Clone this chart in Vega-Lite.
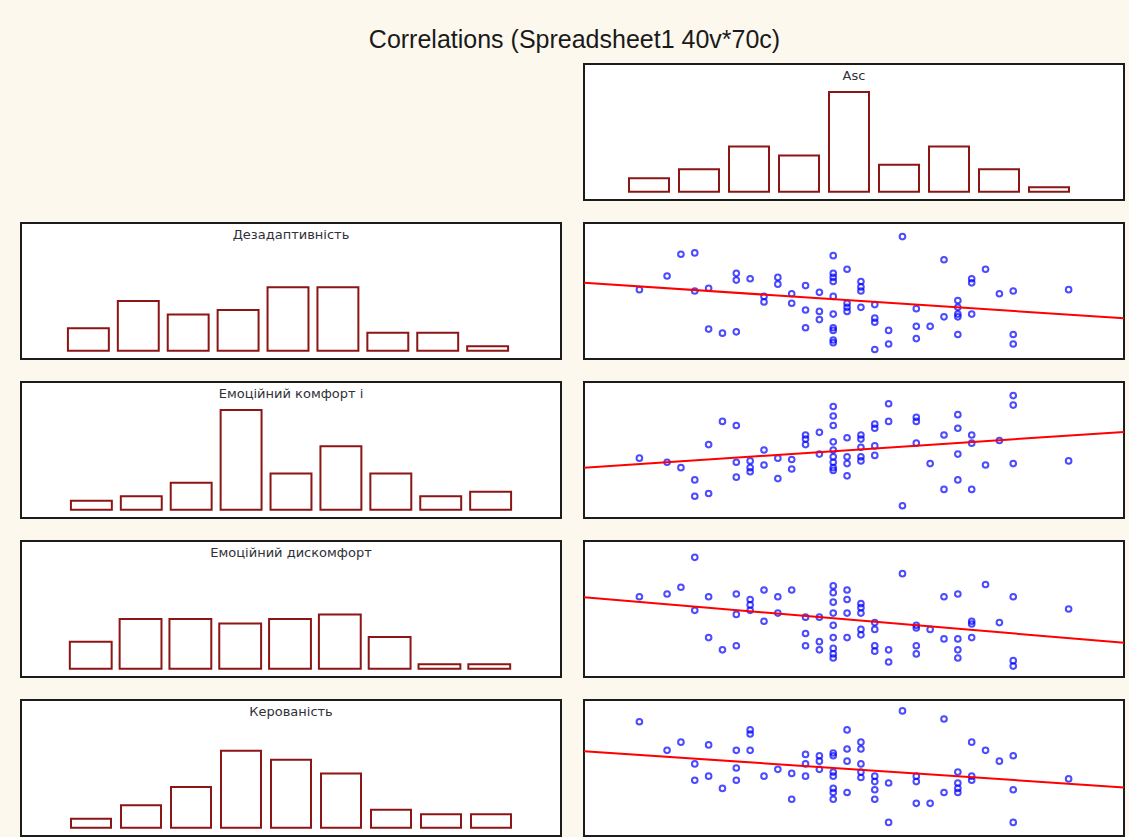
{
  "$schema": "https://vega.github.io/schema/vega-lite/v6.json",
  "background": "#fdf8ee",
  "padding": {"left": 20, "top": 28, "right": 0, "bottom": 0},
  "title": {
    "text": "Correlations (Spreadsheet1 40v*70c)",
    "anchor": "middle",
    "font": "Liberation Sans",
    "fontSize": 25,
    "fontWeight": "normal",
    "color": "#1a1a1a",
    "offset": 10
  },
  "config": {
    "view": {"stroke": "#1c1c1c", "strokeWidth": 2, "fill": "white"},
    "title": {"font": "DejaVu Sans", "fontSize": 13, "fontWeight": "normal", "color": "#303038", "anchor": "middle", "offset": -19},
    "bar": {"fill": "white", "stroke": "#8c1515", "strokeWidth": 2},
    "point": {"shape": "circle", "filled": false, "color": "#0000ff", "size": 32, "strokeWidth": 2},
    "line": {"color": "#ff0000", "strokeWidth": 2}
  },
  "datasets": {
    "hist": [
      {"var": "Asc", "bin": 1, "count": 3}, {"var": "Asc", "bin": 2, "count": 5}, {"var": "Asc", "bin": 3, "count": 10},
      {"var": "Asc", "bin": 4, "count": 8}, {"var": "Asc", "bin": 5, "count": 22}, {"var": "Asc", "bin": 6, "count": 6},
      {"var": "Asc", "bin": 7, "count": 10}, {"var": "Asc", "bin": 8, "count": 5}, {"var": "Asc", "bin": 9, "count": 1},
      {"var": "Дезадаптивність", "bin": 1, "count": 5}, {"var": "Дезадаптивність", "bin": 2, "count": 11}, {"var": "Дезадаптивність", "bin": 3, "count": 8},
      {"var": "Дезадаптивність", "bin": 4, "count": 9}, {"var": "Дезадаптивність", "bin": 5, "count": 14}, {"var": "Дезадаптивність", "bin": 6, "count": 14},
      {"var": "Дезадаптивність", "bin": 7, "count": 4}, {"var": "Дезадаптивність", "bin": 8, "count": 4}, {"var": "Дезадаптивність", "bin": 9, "count": 1},
      {"var": "Емоційний комфорт і", "bin": 1, "count": 2}, {"var": "Емоційний комфорт і", "bin": 2, "count": 3}, {"var": "Емоційний комфорт і", "bin": 3, "count": 6},
      {"var": "Емоційний комфорт і", "bin": 4, "count": 22}, {"var": "Емоційний комфорт і", "bin": 5, "count": 8}, {"var": "Емоційний комфорт і", "bin": 6, "count": 14},
      {"var": "Емоційний комфорт і", "bin": 7, "count": 8}, {"var": "Емоційний комфорт і", "bin": 8, "count": 3}, {"var": "Емоційний комфорт і", "bin": 9, "count": 4},
      {"var": "Емоційний дискомфорт", "bin": 1, "count": 6}, {"var": "Емоційний дискомфорт", "bin": 2, "count": 11}, {"var": "Емоційний дискомфорт", "bin": 3, "count": 11},
      {"var": "Емоційний дискомфорт", "bin": 4, "count": 10}, {"var": "Емоційний дискомфорт", "bin": 5, "count": 11}, {"var": "Емоційний дискомфорт", "bin": 6, "count": 12},
      {"var": "Емоційний дискомфорт", "bin": 7, "count": 7}, {"var": "Емоційний дискомфорт", "bin": 8, "count": 1}, {"var": "Емоційний дискомфорт", "bin": 9, "count": 1},
      {"var": "Керованість", "bin": 1, "count": 2}, {"var": "Керованість", "bin": 2, "count": 5}, {"var": "Керованість", "bin": 3, "count": 9},
      {"var": "Керованість", "bin": 4, "count": 17}, {"var": "Керованість", "bin": 5, "count": 15}, {"var": "Керованість", "bin": 6, "count": 12},
      {"var": "Керованість", "bin": 7, "count": 4}, {"var": "Керованість", "bin": 8, "count": 3}, {"var": "Керованість", "bin": 9, "count": 3}
    ],
    "points": [
      {"var": "D", "Asc": 20, "value": 51}, {"var": "D", "Asc": 22, "value": 61}, {"var": "D", "Asc": 23, "value": 77}, {"var": "D", "Asc": 24, "value": 78},
      {"var": "D", "Asc": 24, "value": 50}, {"var": "D", "Asc": 25, "value": 52}, {"var": "D", "Asc": 25, "value": 22}, {"var": "D", "Asc": 26, "value": 19},
      {"var": "D", "Asc": 27, "value": 63}, {"var": "D", "Asc": 27, "value": 58}, {"var": "D", "Asc": 27, "value": 20}, {"var": "D", "Asc": 28, "value": 59},
      {"var": "D", "Asc": 29, "value": 46}, {"var": "D", "Asc": 29, "value": 42}, {"var": "D", "Asc": 30, "value": 60}, {"var": "D", "Asc": 30, "value": 55},
      {"var": "D", "Asc": 31, "value": 48}, {"var": "D", "Asc": 31, "value": 41}, {"var": "D", "Asc": 32, "value": 54}, {"var": "D", "Asc": 32, "value": 36},
      {"var": "D", "Asc": 32, "value": 23}, {"var": "D", "Asc": 33, "value": 49}, {"var": "D", "Asc": 33, "value": 35}, {"var": "D", "Asc": 33, "value": 29},
      {"var": "D", "Asc": 34, "value": 76}, {"var": "D", "Asc": 34, "value": 63}, {"var": "D", "Asc": 34, "value": 60}, {"var": "D", "Asc": 34, "value": 57},
      {"var": "D", "Asc": 34, "value": 46}, {"var": "D", "Asc": 34, "value": 33}, {"var": "D", "Asc": 34, "value": 23}, {"var": "D", "Asc": 34, "value": 21},
      {"var": "D", "Asc": 34, "value": 14}, {"var": "D", "Asc": 34, "value": 12}, {"var": "D", "Asc": 35, "value": 66}, {"var": "D", "Asc": 35, "value": 41},
      {"var": "D", "Asc": 35, "value": 38}, {"var": "D", "Asc": 35, "value": 35}, {"var": "D", "Asc": 36, "value": 57}, {"var": "D", "Asc": 36, "value": 53},
      {"var": "D", "Asc": 36, "value": 50}, {"var": "D", "Asc": 36, "value": 38}, {"var": "D", "Asc": 37, "value": 40}, {"var": "D", "Asc": 37, "value": 30},
      {"var": "D", "Asc": 37, "value": 27}, {"var": "D", "Asc": 37, "value": 7}, {"var": "D", "Asc": 38, "value": 21}, {"var": "D", "Asc": 38, "value": 11},
      {"var": "D", "Asc": 39, "value": 90}, {"var": "D", "Asc": 40, "value": 37}, {"var": "D", "Asc": 40, "value": 24}, {"var": "D", "Asc": 40, "value": 15},
      {"var": "D", "Asc": 41, "value": 24}, {"var": "D", "Asc": 42, "value": 73}, {"var": "D", "Asc": 42, "value": 31}, {"var": "D", "Asc": 43, "value": 43},
      {"var": "D", "Asc": 43, "value": 38}, {"var": "D", "Asc": 43, "value": 33}, {"var": "D", "Asc": 43, "value": 31}, {"var": "D", "Asc": 43, "value": 18},
      {"var": "D", "Asc": 44, "value": 59}, {"var": "D", "Asc": 44, "value": 56}, {"var": "D", "Asc": 44, "value": 33}, {"var": "D", "Asc": 45, "value": 66},
      {"var": "D", "Asc": 46, "value": 48}, {"var": "D", "Asc": 47, "value": 50}, {"var": "D", "Asc": 47, "value": 18}, {"var": "D", "Asc": 47, "value": 11},
      {"var": "D", "Asc": 51, "value": 51},

      {"var": "C", "Asc": 20, "value": 44}, {"var": "C", "Asc": 22, "value": 41}, {"var": "C", "Asc": 23, "value": 37}, {"var": "C", "Asc": 24, "value": 28},
      {"var": "C", "Asc": 24, "value": 16}, {"var": "C", "Asc": 25, "value": 54}, {"var": "C", "Asc": 25, "value": 18}, {"var": "C", "Asc": 26, "value": 71},
      {"var": "C", "Asc": 27, "value": 68}, {"var": "C", "Asc": 27, "value": 41}, {"var": "C", "Asc": 27, "value": 30}, {"var": "C", "Asc": 28, "value": 42},
      {"var": "C", "Asc": 28, "value": 37}, {"var": "C", "Asc": 28, "value": 34}, {"var": "C", "Asc": 29, "value": 50}, {"var": "C", "Asc": 29, "value": 39},
      {"var": "C", "Asc": 30, "value": 44}, {"var": "C", "Asc": 30, "value": 29}, {"var": "C", "Asc": 31, "value": 43}, {"var": "C", "Asc": 31, "value": 36},
      {"var": "C", "Asc": 32, "value": 61}, {"var": "C", "Asc": 32, "value": 58}, {"var": "C", "Asc": 32, "value": 54}, {"var": "C", "Asc": 33, "value": 63},
      {"var": "C", "Asc": 33, "value": 47}, {"var": "C", "Asc": 34, "value": 82}, {"var": "C", "Asc": 34, "value": 75}, {"var": "C", "Asc": 34, "value": 68},
      {"var": "C", "Asc": 34, "value": 56}, {"var": "C", "Asc": 34, "value": 50}, {"var": "C", "Asc": 34, "value": 45}, {"var": "C", "Asc": 34, "value": 41},
      {"var": "C", "Asc": 34, "value": 37}, {"var": "C", "Asc": 34, "value": 35}, {"var": "C", "Asc": 35, "value": 59}, {"var": "C", "Asc": 35, "value": 45},
      {"var": "C", "Asc": 35, "value": 40}, {"var": "C", "Asc": 35, "value": 31}, {"var": "C", "Asc": 36, "value": 61}, {"var": "C", "Asc": 36, "value": 58},
      {"var": "C", "Asc": 36, "value": 52}, {"var": "C", "Asc": 36, "value": 45}, {"var": "C", "Asc": 36, "value": 42}, {"var": "C", "Asc": 37, "value": 69},
      {"var": "C", "Asc": 37, "value": 66}, {"var": "C", "Asc": 37, "value": 53}, {"var": "C", "Asc": 37, "value": 46}, {"var": "C", "Asc": 38, "value": 84},
      {"var": "C", "Asc": 38, "value": 71}, {"var": "C", "Asc": 39, "value": 9}, {"var": "C", "Asc": 40, "value": 74}, {"var": "C", "Asc": 40, "value": 71},
      {"var": "C", "Asc": 40, "value": 55}, {"var": "C", "Asc": 41, "value": 40}, {"var": "C", "Asc": 42, "value": 61}, {"var": "C", "Asc": 42, "value": 21},
      {"var": "C", "Asc": 43, "value": 76}, {"var": "C", "Asc": 43, "value": 66}, {"var": "C", "Asc": 43, "value": 47}, {"var": "C", "Asc": 43, "value": 28},
      {"var": "C", "Asc": 44, "value": 61}, {"var": "C", "Asc": 44, "value": 55}, {"var": "C", "Asc": 44, "value": 21}, {"var": "C", "Asc": 45, "value": 39},
      {"var": "C", "Asc": 46, "value": 57}, {"var": "C", "Asc": 47, "value": 90}, {"var": "C", "Asc": 47, "value": 83}, {"var": "C", "Asc": 47, "value": 40},
      {"var": "C", "Asc": 51, "value": 42},

      {"var": "U", "Asc": 20, "value": 59}, {"var": "U", "Asc": 22, "value": 61}, {"var": "U", "Asc": 23, "value": 66}, {"var": "U", "Asc": 24, "value": 88},
      {"var": "U", "Asc": 24, "value": 49}, {"var": "U", "Asc": 25, "value": 59}, {"var": "U", "Asc": 25, "value": 29}, {"var": "U", "Asc": 26, "value": 20},
      {"var": "U", "Asc": 27, "value": 61}, {"var": "U", "Asc": 27, "value": 46}, {"var": "U", "Asc": 27, "value": 23}, {"var": "U", "Asc": 28, "value": 57},
      {"var": "U", "Asc": 28, "value": 53}, {"var": "U", "Asc": 28, "value": 49}, {"var": "U", "Asc": 29, "value": 64}, {"var": "U", "Asc": 29, "value": 41},
      {"var": "U", "Asc": 30, "value": 59}, {"var": "U", "Asc": 30, "value": 47}, {"var": "U", "Asc": 31, "value": 64}, {"var": "U", "Asc": 32, "value": 44},
      {"var": "U", "Asc": 32, "value": 32}, {"var": "U", "Asc": 32, "value": 23}, {"var": "U", "Asc": 33, "value": 44}, {"var": "U", "Asc": 33, "value": 26},
      {"var": "U", "Asc": 33, "value": 20}, {"var": "U", "Asc": 34, "value": 67}, {"var": "U", "Asc": 34, "value": 62}, {"var": "U", "Asc": 34, "value": 55},
      {"var": "U", "Asc": 34, "value": 47}, {"var": "U", "Asc": 34, "value": 38}, {"var": "U", "Asc": 34, "value": 29}, {"var": "U", "Asc": 34, "value": 21},
      {"var": "U", "Asc": 34, "value": 17}, {"var": "U", "Asc": 34, "value": 14}, {"var": "U", "Asc": 35, "value": 64}, {"var": "U", "Asc": 35, "value": 57},
      {"var": "U", "Asc": 35, "value": 47}, {"var": "U", "Asc": 35, "value": 29}, {"var": "U", "Asc": 36, "value": 54}, {"var": "U", "Asc": 36, "value": 51},
      {"var": "U", "Asc": 36, "value": 47}, {"var": "U", "Asc": 36, "value": 35}, {"var": "U", "Asc": 36, "value": 31}, {"var": "U", "Asc": 37, "value": 40},
      {"var": "U", "Asc": 37, "value": 35}, {"var": "U", "Asc": 37, "value": 23}, {"var": "U", "Asc": 37, "value": 19}, {"var": "U", "Asc": 38, "value": 20},
      {"var": "U", "Asc": 38, "value": 11}, {"var": "U", "Asc": 39, "value": 76}, {"var": "U", "Asc": 40, "value": 38}, {"var": "U", "Asc": 40, "value": 36},
      {"var": "U", "Asc": 40, "value": 23}, {"var": "U", "Asc": 40, "value": 17}, {"var": "U", "Asc": 41, "value": 35}, {"var": "U", "Asc": 42, "value": 59},
      {"var": "U", "Asc": 42, "value": 28}, {"var": "U", "Asc": 43, "value": 61}, {"var": "U", "Asc": 43, "value": 28}, {"var": "U", "Asc": 43, "value": 20},
      {"var": "U", "Asc": 43, "value": 14}, {"var": "U", "Asc": 44, "value": 41}, {"var": "U", "Asc": 44, "value": 39}, {"var": "U", "Asc": 44, "value": 29},
      {"var": "U", "Asc": 45, "value": 68}, {"var": "U", "Asc": 46, "value": 40}, {"var": "U", "Asc": 47, "value": 59}, {"var": "U", "Asc": 47, "value": 12},
      {"var": "U", "Asc": 47, "value": 8}, {"var": "U", "Asc": 51, "value": 50},

      {"var": "K", "Asc": 20, "value": 84}, {"var": "K", "Asc": 22, "value": 63}, {"var": "K", "Asc": 23, "value": 69}, {"var": "K", "Asc": 24, "value": 53},
      {"var": "K", "Asc": 24, "value": 41}, {"var": "K", "Asc": 25, "value": 67}, {"var": "K", "Asc": 25, "value": 44}, {"var": "K", "Asc": 26, "value": 35},
      {"var": "K", "Asc": 27, "value": 63}, {"var": "K", "Asc": 27, "value": 50}, {"var": "K", "Asc": 27, "value": 41}, {"var": "K", "Asc": 28, "value": 78},
      {"var": "K", "Asc": 28, "value": 75}, {"var": "K", "Asc": 28, "value": 63}, {"var": "K", "Asc": 29, "value": 44}, {"var": "K", "Asc": 30, "value": 49},
      {"var": "K", "Asc": 31, "value": 46}, {"var": "K", "Asc": 31, "value": 27}, {"var": "K", "Asc": 32, "value": 60}, {"var": "K", "Asc": 32, "value": 53},
      {"var": "K", "Asc": 32, "value": 44}, {"var": "K", "Asc": 33, "value": 59}, {"var": "K", "Asc": 33, "value": 55}, {"var": "K", "Asc": 33, "value": 49},
      {"var": "K", "Asc": 34, "value": 61}, {"var": "K", "Asc": 34, "value": 59}, {"var": "K", "Asc": 34, "value": 47}, {"var": "K", "Asc": 34, "value": 44},
      {"var": "K", "Asc": 34, "value": 35}, {"var": "K", "Asc": 34, "value": 32}, {"var": "K", "Asc": 34, "value": 27}, {"var": "K", "Asc": 35, "value": 78},
      {"var": "K", "Asc": 35, "value": 64}, {"var": "K", "Asc": 35, "value": 55}, {"var": "K", "Asc": 35, "value": 32}, {"var": "K", "Asc": 36, "value": 69},
      {"var": "K", "Asc": 36, "value": 64}, {"var": "K", "Asc": 36, "value": 53}, {"var": "K", "Asc": 36, "value": 47}, {"var": "K", "Asc": 36, "value": 43},
      {"var": "K", "Asc": 37, "value": 44}, {"var": "K", "Asc": 37, "value": 40}, {"var": "K", "Asc": 37, "value": 34}, {"var": "K", "Asc": 37, "value": 27},
      {"var": "K", "Asc": 38, "value": 39}, {"var": "K", "Asc": 38, "value": 10}, {"var": "K", "Asc": 39, "value": 92}, {"var": "K", "Asc": 40, "value": 44},
      {"var": "K", "Asc": 40, "value": 40}, {"var": "K", "Asc": 40, "value": 24}, {"var": "K", "Asc": 41, "value": 24}, {"var": "K", "Asc": 42, "value": 86},
      {"var": "K", "Asc": 42, "value": 32}, {"var": "K", "Asc": 43, "value": 47}, {"var": "K", "Asc": 43, "value": 39}, {"var": "K", "Asc": 43, "value": 35},
      {"var": "K", "Asc": 43, "value": 32}, {"var": "K", "Asc": 44, "value": 69}, {"var": "K", "Asc": 44, "value": 44}, {"var": "K", "Asc": 44, "value": 41},
      {"var": "K", "Asc": 45, "value": 63}, {"var": "K", "Asc": 46, "value": 55}, {"var": "K", "Asc": 47, "value": 59}, {"var": "K", "Asc": 47, "value": 34},
      {"var": "K", "Asc": 47, "value": 10}, {"var": "K", "Asc": 51, "value": 42}
    ],
    "fit": [
      {"var": "D", "Asc": 16, "value": 56}, {"var": "D", "Asc": 55, "value": 30},
      {"var": "C", "Asc": 16, "value": 36.9}, {"var": "C", "Asc": 55, "value": 63.3},
      {"var": "U", "Asc": 16, "value": 58.6}, {"var": "U", "Asc": 55, "value": 25.2},
      {"var": "K", "Asc": 16, "value": 62.3}, {"var": "K", "Asc": 55, "value": 35.7}
    ]
  },
  "columns": 2,
  "spacing": {"row": 21, "column": 17},
  "concat": [
    {
      "width": 540, "height": 136,
      "view": {"stroke": null, "fill": null},
      "data": {"values": [{}]},
      "mark": {"type": "text", "text": ""}
    },
    {
      "title": "Asc",
      "width": 540, "height": 136,
      "data": {"name": "hist"},
      "transform": [{"filter": "datum.var === 'Asc'"}],
      "mark": "bar",
      "encoding": {
        "x": {"field": "bin", "type": "ordinal", "axis": null, "scale": {"paddingInner": 0.2, "paddingOuter": 1.09, "align": 0.45}},
        "y": {"field": "count", "type": "quantitative", "axis": null, "scale": {"domain": [-1.8, 28.2], "nice": false, "zero": false}},
        "y2": {"datum": 0}
      }
    },
    {
      "title": "Дезадаптивність",
      "width": 540, "height": 136,
      "data": {"name": "hist"},
      "transform": [{"filter": "datum.var === 'Дезадаптивність'"}],
      "mark": "bar",
      "encoding": {
        "x": {"field": "bin", "type": "ordinal", "axis": null, "scale": {"paddingInner": 0.18, "paddingOuter": 1.2, "align": 0.47}},
        "y": {"field": "count", "type": "quantitative", "axis": null, "scale": {"domain": [-1.8, 28.2], "nice": false, "zero": false}},
        "y2": {"datum": 0}
      }
    },
    {
      "width": 540, "height": 136,
      "layer": [
        {
          "data": {"name": "points"},
          "transform": [{"filter": "datum.var === 'D'"}],
          "mark": "point",
          "encoding": {
            "x": {"field": "Asc", "type": "quantitative", "axis": null, "scale": {"domain": [16, 55], "nice": false, "zero": false}},
            "y": {"field": "value", "type": "quantitative", "axis": null, "scale": {"domain": [0, 100], "nice": false, "zero": false}}
          }
        },
        {
          "data": {"name": "fit"},
          "transform": [{"filter": "datum.var === 'D'"}],
          "mark": "line",
          "encoding": {
            "x": {"field": "Asc", "type": "quantitative"},
            "y": {"field": "value", "type": "quantitative"}
          }
        }
      ]
    },
    {
      "title": "Емоційний комфорт і",
      "width": 540, "height": 136,
      "data": {"name": "hist"},
      "transform": [{"filter": "datum.var === 'Емоційний комфорт і'"}],
      "mark": "bar",
      "encoding": {
        "x": {"field": "bin", "type": "ordinal", "axis": null, "scale": {"paddingInner": 0.18, "paddingOuter": 1.18, "align": 0.5}},
        "y": {"field": "count", "type": "quantitative", "axis": null, "scale": {"domain": [-1.8, 28.2], "nice": false, "zero": false}},
        "y2": {"datum": 0}
      }
    },
    {
      "width": 540, "height": 136,
      "layer": [
        {
          "data": {"name": "points"},
          "transform": [{"filter": "datum.var === 'C'"}],
          "mark": "point",
          "encoding": {
            "x": {"field": "Asc", "type": "quantitative", "axis": null, "scale": {"domain": [16, 55], "nice": false, "zero": false}},
            "y": {"field": "value", "type": "quantitative", "axis": null, "scale": {"domain": [0, 100], "nice": false, "zero": false}}
          }
        },
        {
          "data": {"name": "fit"},
          "transform": [{"filter": "datum.var === 'C'"}],
          "mark": "line",
          "encoding": {
            "x": {"field": "Asc", "type": "quantitative"},
            "y": {"field": "value", "type": "quantitative"}
          }
        }
      ]
    },
    {
      "title": "Емоційний дискомфорт",
      "width": 540, "height": 136,
      "data": {"name": "hist"},
      "transform": [{"filter": "datum.var === 'Емоційний дискомфорт'"}],
      "mark": "bar",
      "encoding": {
        "x": {"field": "bin", "type": "ordinal", "axis": null, "scale": {"paddingInner": 0.16, "paddingOuter": 1.08, "align": 0.49}},
        "y": {"field": "count", "type": "quantitative", "axis": null, "scale": {"domain": [-1.8, 28.2], "nice": false, "zero": false}},
        "y2": {"datum": 0}
      }
    },
    {
      "width": 540, "height": 136,
      "layer": [
        {
          "data": {"name": "points"},
          "transform": [{"filter": "datum.var === 'U'"}],
          "mark": "point",
          "encoding": {
            "x": {"field": "Asc", "type": "quantitative", "axis": null, "scale": {"domain": [16, 55], "nice": false, "zero": false}},
            "y": {"field": "value", "type": "quantitative", "axis": null, "scale": {"domain": [0, 100], "nice": false, "zero": false}}
          }
        },
        {
          "data": {"name": "fit"},
          "transform": [{"filter": "datum.var === 'U'"}],
          "mark": "line",
          "encoding": {
            "x": {"field": "Asc", "type": "quantitative"},
            "y": {"field": "value", "type": "quantitative"}
          }
        }
      ]
    },
    {
      "title": "Керованість",
      "width": 540, "height": 136,
      "data": {"name": "hist"},
      "transform": [{"filter": "datum.var === 'Керованість'"}],
      "mark": "bar",
      "encoding": {
        "x": {"field": "bin", "type": "ordinal", "axis": null, "scale": {"paddingInner": 0.2, "paddingOuter": 1.03, "align": 0.5}},
        "y": {"field": "count", "type": "quantitative", "axis": null, "scale": {"domain": [-1.8, 28.2], "nice": false, "zero": false}},
        "y2": {"datum": 0}
      }
    },
    {
      "width": 540, "height": 136,
      "layer": [
        {
          "data": {"name": "points"},
          "transform": [{"filter": "datum.var === 'K'"}],
          "mark": "point",
          "encoding": {
            "x": {"field": "Asc", "type": "quantitative", "axis": null, "scale": {"domain": [16, 55], "nice": false, "zero": false}},
            "y": {"field": "value", "type": "quantitative", "axis": null, "scale": {"domain": [0, 100], "nice": false, "zero": false}}
          }
        },
        {
          "data": {"name": "fit"},
          "transform": [{"filter": "datum.var === 'K'"}],
          "mark": "line",
          "encoding": {
            "x": {"field": "Asc", "type": "quantitative"},
            "y": {"field": "value", "type": "quantitative"}
          }
        }
      ]
    }
  ]
}
